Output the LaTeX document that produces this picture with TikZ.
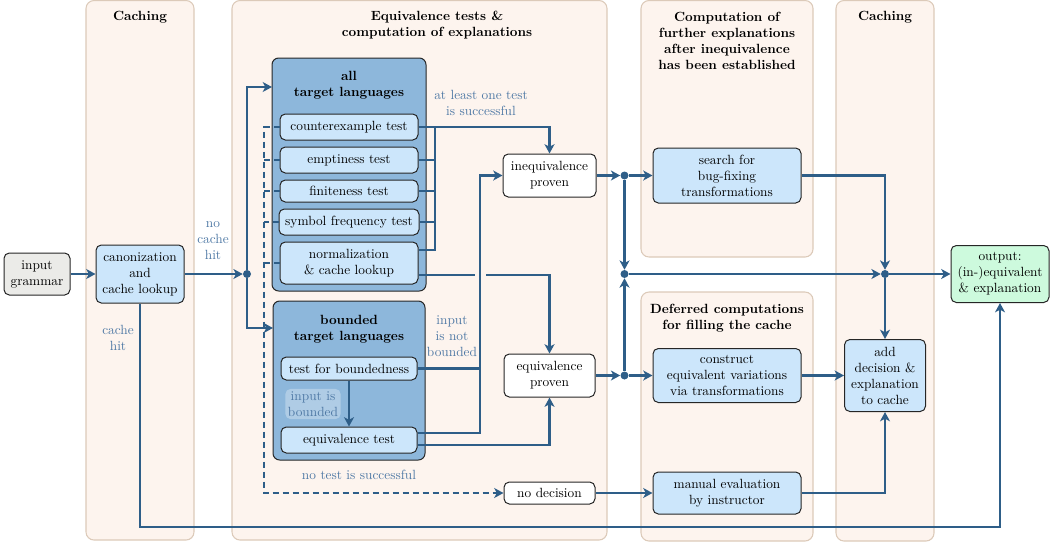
\documentclass[tikz,border=0pt]{standalone}
\usetikzlibrary{arrows.meta,calc}
\definecolor{panelfill}{HTML}{FDF4EE}
\definecolor{paneldraw}{HTML}{DCCAB9}
\definecolor{lightblue}{HTML}{CCE6FB}
\definecolor{darkblue}{HTML}{8DB7DB}
\definecolor{lightgray}{HTML}{EBEBE8}
\definecolor{lightgreen}{HTML}{CDFADD}
\definecolor{linecol}{HTML}{2E5E88}
\definecolor{labelcol}{HTML}{4F79A5}
\begin{document}
\begin{tikzpicture}[x=0.75pt,y=-0.75pt,
  font=\fontsize{10}{12}\selectfont,
  sz/.style 2 args={minimum width=#1*0.75pt,minimum height=#2*0.75pt},
  box/.style={draw=black!85,line width=0.75pt,rounded corners=4pt,align=center,inner sep=1pt},
  bluebox/.style={box,fill=lightblue},
  whitebox/.style={box,fill=white},
  container/.style={draw=black!85,line width=0.75pt,rounded corners=5pt,fill=darkblue},
  panel/.style={draw=paneldraw,fill=panelfill,line width=0.8pt,rounded corners=6pt},
  ptitle/.style={font=\fontsize{10}{12}\selectfont\bfseries,align=center},
  lbl/.style={text=labelcol,align=center},
  line/.style={draw=linecol,line width=1.6pt},
  tip/.style={-{Stealth[length=7pt,width=7.5pt,inset=2pt]}},
  arr/.style={line,tip},
  dashline/.style={line,dash pattern=on 4.5pt off 3pt},
  dot/.style={circle,fill=linecol,inner sep=0pt,minimum size=6pt},
]
\useasboundingbox (0,0) rectangle (1063,547);

% panels
\draw[panel] (86,0.5) rectangle (194,540);
\draw[panel] (232,0.5) rectangle (607,540);
\draw[panel] (641,0.5) rectangle (813,257);
\draw[panel] (641,292) rectangle (813,541);
\draw[panel] (836,0.5) rectangle (934,541);

\node[ptitle] (t1) at (140,17) {Caching};
\node[ptitle] (t2) at (437,25) {Equivalence tests \&\\computation of explanations};
\node[ptitle] (t3) at (727,41) {Computation of\\further explanations\\after inequivalence\\has been established};
\node[ptitle] (t4) at (885,17) {Caching};
\node[ptitle] (t5) at (727,318) {Deferred computations\\for filling the cache};

% nodes
\node[box,fill=lightgray,sz={66}{42}] (input) at (37,274) {input\\grammar};
\node[bluebox,sz={88}{58}] (canon) at (140,274) {canonization\\and\\cache lookup};

\node[container,sz={154}{233}] (all) at (349,174.5) {};
\node[ptitle] (allt) at (349,85) {all\\target languages};
\node[bluebox,sz={138}{26}] (cex) at (349,127) {counterexample test};
\node[bluebox,sz={138}{26}] (emp) at (349,160) {emptiness test};
\node[bluebox,sz={138}{22}] (fin) at (349,191) {finiteness test};
\node[bluebox,sz={140}{26}] (sym) at (349,222) {symbol frequency test};
\node[bluebox,sz={138}{42}] (norm) at (349,263) {normalization\\\& cache lookup};

\node[container,sz={152}{159}] (bnd) at (349,380.5) {};
\node[ptitle] (bndt) at (349,329) {bounded\\target languages};
\node[bluebox,sz={136}{23}] (tfb) at (349,368.5) {test for boundedness};
\node[bluebox,sz={136}{26}] (eqt) at (349,440) {equivalence test};
\node[lbl,fill=white,fill opacity=0.3,text opacity=1,rounded corners=4pt,inner sep=2pt] (l5) at (313,404) {input is\\bounded};

\node[whitebox,sz={93}{43}] (ineq) at (549.5,175.5) {inequivalence\\proven};
\node[whitebox,sz={91}{43}] (eq) at (549.5,375.5) {equivalence\\proven};
\node[whitebox,sz={91}{22}] (nodec) at (549.5,493) {no decision};
\node[bluebox,sz={148}{55}] (search) at (727,175.5) {search for\\bug-fixing\\transformations};
\node[bluebox,sz={148}{54}] (constr) at (727,375.5) {construct\\equivalent variations\\via transformations};
\node[bluebox,sz={148}{42}] (manual) at (727,493) {manual evaluation\\by instructor};
\node[bluebox,sz={81}{72}] (add) at (885,375.5) {add\\decision \&\\explanation\\to cache};
\node[box,fill=lightgreen,sz={98}{57}] (out) at (1000,274) {output:\\(in-)equivalent\\\& explanation};

\node[dot] (j1) at (247,274) {};
\node[dot] (d1) at (624.5,175.5) {};
\node[dot] (d2) at (624.5,274) {};
\node[dot] (d3) at (624.5,375.5) {};
\node[dot] (d4) at (885,274) {};

% labels
\node[lbl] (l1) at (213,241) {no\\cache\\hit};
\node[lbl] (l2) at (118,337.5) {cache\\hit};
\node[lbl] (l3) at (481,102.5) {at least one test\\is successful};
\node[lbl] (l4) at (452,336) {input\\is not\\bounded};
\node[lbl] (l6) at (359,475) {no test is successful};

% helper coordinates
\coordinate (busx) at (435,0);
\coordinate (vx) at (480,0);
\coordinate (dx) at (264,0);
\coordinate (bot) at (0,527);
\coordinate (allin) at (272,87);
\coordinate (bndin) at (273,328);

% connectors
\draw[arr] (input) -- (canon);
\draw[arr] (canon) -- (j1);
\draw[arr] (j1) |- (allin);
\draw[arr] (j1) |- (bndin);

\draw[line] (cex.east) -- (cex.east -| busx);
\foreach \n in {emp,fin,sym} \draw[line] (\n.east) -- (\n.east -| busx);
\draw[line] ([yshift=9.75pt]norm.east) -| (cex.east -| busx);
\draw[arr] (cex.east) -| (ineq.north);

\draw[arr] ([yshift=-9pt]norm.east) -| (eq.north);
\fill[panelfill] (475,270) rectangle (486,280);
\draw[arr] ([yshift=5.25pt]eqt.east) -| (vx |- ineq.west) -- (ineq.west);
\draw[line] (tfb.east) -- (tfb.east -| vx);
\draw[arr] ([yshift=-3.75pt]eqt.east) -| (eq.south);
\draw[arr] (tfb) -- (eqt);

\draw[dashline,tip] (cex.west) -- (cex.west -| dx) |- (nodec.west);
\foreach \n in {emp,fin,sym,norm} \draw[dashline] (\n.west) -- (\n.west -| dx);

\draw[arr] (ineq) -- (d1);
\draw[arr] (d1) -- (search);
\draw[arr] (d1) -- (d2);
\draw[arr] (eq) -- (d3);
\draw[arr] (d3) -- (constr);
\draw[arr] (d3) -- (d2);
\draw[arr] (d2) -- (d4);
\draw[arr] (search.east) -| (d4);
\draw[arr] (d4) -- (out);
\draw[arr] (d4) -- (add);
\draw[arr] (constr) -- (add);
\draw[arr] (manual.east) -| (add.south);
\draw[arr] (nodec) -- (manual);
\draw[arr] (canon.south) -- (canon.south |- bot) -| (out.south);
\end{tikzpicture}
\end{document}
